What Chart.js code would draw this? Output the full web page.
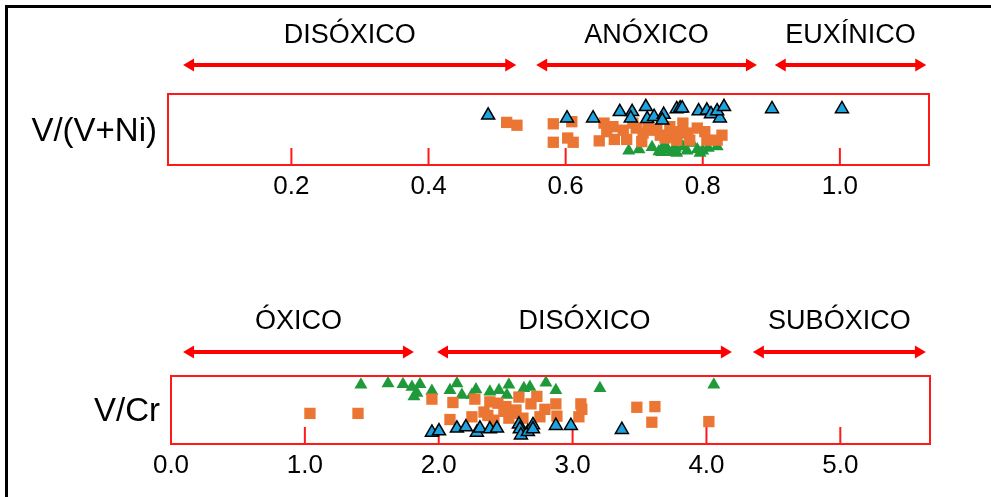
<!DOCTYPE html>
<html>
<head>
<meta charset="utf-8">
<script src="https://cdn.jsdelivr.net/npm/chart.js@4.4.1/dist/chart.umd.min.js"></script>
<style>
  html, body { margin: 0; padding: 0; background: #fff; }
  body { width: 991px; height: 497px; position: relative; overflow: hidden; }
  #frame { position: absolute; left: 5px; top: 5px; width: 990px; height: 500px;
           border-left: 3px solid #000; border-top: 3px solid #000; }
  .strip { position: absolute; left: 0; width: 991px; }
  #top { top: 0; height: 215px; }
  #bottom { top: 280px; height: 214px; }
</style>
</head>
<body>
<div id="frame"></div>
<div class="strip" id="top"><canvas id="vni"></canvas></div>
<div class="strip" id="bottom"><canvas id="vcr"></canvas></div>
<script>
// ---- V/(V+Ni) ----
const vniTicks = [0.2, 0.4, 0.6, 0.8, 1.0];
const vniZones = ['DISÓXICO', 'ANÓXICO', 'EUXÍNICO'];
const vniZoneFrom = [0.042, 0.557, 0.905];
const vniZoneTo = [0.528, 0.879, 1.126];

const vniBlue = [0.487, 0.602, 0.640, 0.679, 0.697, 0.695, 0.717, 0.719, 0.729, 0.743, 0.741,
  0.762, 0.767, 0.770, 0.794, 0.806, 0.812, 0.825, 0.821, 0.831, 0.901, 1.003];
const vniBlueLevel = [0.70, 0.66, 0.66, 0.75, 0.75, 0.66, 0.82, 0.65, 0.68, 0.71, 0.63,
  0.79, 0.80, 0.80, 0.76, 0.77, 0.72, 0.66, 0.76, 0.82, 0.79, 0.79];

const vniOrange = [0.514, 0.529, 0.582, 0.582, 0.609, 0.603, 0.611, 0.649, 0.656, 0.660, 0.669,
  0.671, 0.684, 0.689, 0.698, 0.713, 0.711, 0.726, 0.738, 0.745, 0.752, 0.762, 0.762, 0.771,
  0.778, 0.781, 0.803, 0.806, 0.828, 0.821, 0.720, 0.703, 0.755, 0.792, 0.733];
const vniOrangeLevel = [0.60, 0.56, 0.58, 0.32, 0.61, 0.38, 0.32, 0.34, 0.59, 0.47, 0.54,
  0.36, 0.49, 0.36, 0.59, 0.45, 0.33, 0.49, 0.42, 0.38, 0.54, 0.47, 0.35, 0.59,
  0.45, 0.35, 0.47, 0.35, 0.42, 0.35, 0.56, 0.52, 0.40, 0.52, 0.50];

const vniGreen = [0.692, 0.707, 0.726, 0.736, 0.743, 0.749, 0.760, 0.762, 0.771, 0.777, 0.784,
  0.792, 0.800, 0.808, 0.821, 0.796, 0.755, 0.740];
const vniGreenLevel = [0.20, 0.22, 0.25, 0.19, 0.27, 0.22, 0.24, 0.17, 0.26, 0.20, 0.31,
  0.22, 0.20, 0.24, 0.26, 0.17, 0.18, 0.18];

// ---- V/Cr ----
const vcrTicks = [0.0, 1.0, 2.0, 3.0, 4.0, 5.0];
const vcrZones = ['ÓXICO', 'DISÓXICO', 'SUBÓXICO'];
const vcrZoneFrom = [0.09, 1.987, 4.347];
const vcrZoneTo = [1.815, 4.19, 5.639];

const vcrGreen = [1.419, 1.621, 1.733, 1.800, 1.860, 1.837, 1.815, 1.949, 2.084, 2.136, 2.173,
  2.248, 2.382, 2.450, 2.524, 2.509, 2.681, 2.801, 2.875, 3.204, 4.055, 2.278, 2.636];
const vcrGreenLevel = [0.87, 0.89, 0.88, 0.84, 0.88, 0.75, 0.70, 0.78, 0.79, 0.89, 0.72,
  0.72, 0.77, 0.79, 0.87, 0.72, 0.84, 0.90, 0.79, 0.82, 0.87, 0.80, 0.82];

const vcrOrange = [1.038, 1.397, 1.949, 2.106, 2.084, 2.270, 2.248, 2.382, 2.338, 2.442, 2.412,
  2.487, 2.524, 2.599, 2.577, 2.629, 2.733, 2.689, 2.793, 2.756, 2.875, 2.883, 3.062, 3.047,
  3.069, 3.480, 3.615, 3.592, 4.018, 2.502, 2.562, 2.367];
const vcrOrangeLevel = [0.45, 0.45, 0.66, 0.61, 0.36, 0.66, 0.40, 0.62, 0.47, 0.60, 0.35,
  0.48, 0.38, 0.69, 0.50, 0.38, 0.70, 0.59, 0.51, 0.40, 0.59, 0.41, 0.59, 0.40,
  0.51, 0.54, 0.55, 0.32, 0.33, 0.55, 0.45, 0.42];

const vcrBlue = [1.949, 2.002, 2.136, 2.203, 2.285, 2.308, 2.382, 2.435, 2.599, 2.606, 2.614,
  2.666, 2.704, 2.704, 2.875, 2.987, 3.368];
const vcrBlueLevel = [0.17, 0.19, 0.23, 0.25, 0.17, 0.23, 0.22, 0.23, 0.29, 0.22, 0.13,
  0.18, 0.28, 0.22, 0.27, 0.27, 0.21];

function pts(xs, ys) {
  return xs.map((v, i) => ({ x: v, y: ys[i] }));
}

// red box, inner ticks, arrows, zone names and the row title
const stripDecor = {
  id: 'stripDecor',
  beforeDatasetsDraw(chart, args, opts) {
    const { ctx, chartArea: a, scales: { x } } = chart;
    ctx.save();
    ctx.strokeStyle = '#ff1a1a';
    ctx.lineWidth = 2;
    ctx.strokeRect(a.left, a.top, a.width, a.height);
    ctx.beginPath();
    x.ticks.forEach(t => {
      if (t.value <= x.min) return;
      const px = x.getPixelForValue(t.value);
      ctx.moveTo(px, a.bottom);
      ctx.lineTo(px, a.bottom - 17);
    });
    ctx.stroke();
    ctx.restore();
  },
  afterDraw(chart, args, opts) {
    const { ctx, chartArea: a, scales: { x } } = chart;
    ctx.save();
    const ay = a.top - opts.arrowGap;
    opts.from.forEach((f, i) => {
      const x1 = x.getPixelForValue(f);
      const x2 = x.getPixelForValue(opts.to[i]);
      ctx.strokeStyle = '#ff0000';
      ctx.fillStyle = '#ff0000';
      ctx.lineWidth = 4;
      ctx.beginPath();
      ctx.moveTo(x1 + 8, ay);
      ctx.lineTo(x2 - 8, ay);
      ctx.stroke();
      ctx.beginPath();
      ctx.moveTo(x1, ay); ctx.lineTo(x1 + 11, ay - 6.5); ctx.lineTo(x1 + 11, ay + 6.5);
      ctx.closePath(); ctx.fill();
      ctx.beginPath();
      ctx.moveTo(x2, ay); ctx.lineTo(x2 - 11, ay - 6.5); ctx.lineTo(x2 - 11, ay + 6.5);
      ctx.closePath(); ctx.fill();

      ctx.fillStyle = '#000';
      ctx.font = '27px "Liberation Sans", Arial, sans-serif';
      ctx.textAlign = 'center';
      ctx.textBaseline = 'middle';
      ctx.fillText(opts.names[i], (x1 + x2) / 2, a.top - opts.labelGap);
    });
    ctx.fillStyle = '#000';
    ctx.font = '33px "Liberation Sans", Arial, sans-serif';
    ctx.textAlign = 'right';
    ctx.textBaseline = 'middle';
    ctx.fillText(opts.title, a.left - 11, (a.top + a.bottom) / 2 + 2);
    ctx.restore();
  }
};

function stripChart(id, c) {
  return new Chart(document.getElementById(id), {
    type: 'scatter',
    data: {
      datasets: [
        { data: pts(c.blue, c.blueLevel), pointStyle: 'triangle', pointRadius: 7.5,
          backgroundColor: '#1fa3de', borderColor: '#000', borderWidth: 1.5 },
        { data: pts(c.orange, c.orangeLevel), pointStyle: 'rect', pointRadius: 8,
          backgroundColor: '#eb7633', borderWidth: 0 },
        { data: pts(c.green, c.greenLevel), pointStyle: 'triangle', pointRadius: 7.5,
          backgroundColor: '#1f9a3b', borderWidth: 0 }
      ]
    },
    options: {
      responsive: true,
      maintainAspectRatio: false,
      animation: false,
      events: [],
      layout: { padding: { top: c.padTop, left: c.padLeft, right: c.padRight, bottom: 0 } },
      plugins: {
        legend: { display: false },
        tooltip: { enabled: false },
        stripDecor: { from: c.from, to: c.to, names: c.names, title: c.title,
                      arrowGap: c.arrowGap, labelGap: c.labelGap }
      },
      scales: {
        x: {
          type: 'linear',
          min: c.min,
          max: c.max,
          afterBuildTicks: s => { s.ticks = c.ticks.map(v => ({ value: v })); },
          afterFit: s => { s.height = 50; },
          grid: { display: false, drawTicks: false },
          border: { display: false },
          ticks: {
            color: '#000',
            padding: 6,
            maxRotation: 0,
            autoSkip: false,
            font: { family: 'Liberation Sans', size: 26 },
            callback: v => v.toFixed(1)
          }
        },
        y: { display: false, min: 0, max: 1 }
      }
    },
    plugins: [stripDecor]
  });
}

stripChart('vni', {
  blue: vniBlue, blueLevel: vniBlueLevel,
  orange: vniOrange, orangeLevel: vniOrangeLevel,
  green: vniGreen, greenLevel: vniGreenLevel,
  ticks: vniTicks, min: 0.02, max: 1.13,
  from: vniZoneFrom, to: vniZoneTo, names: vniZones, title: 'V/(V+Ni)',
  padTop: 94, padLeft: 168, padRight: 62, arrowGap: 29, labelGap: 58
});

stripChart('vcr', {
  blue: vcrBlue, blueLevel: vcrBlueLevel,
  orange: vcrOrange, orangeLevel: vcrOrangeLevel,
  green: vcrGreen, greenLevel: vcrGreenLevel,
  ticks: vcrTicks, min: 0, max: 5.67,
  from: vcrZoneFrom, to: vcrZoneTo, names: vcrZones, title: 'V/Cr',
  padTop: 96, padLeft: 171, padRight: 61, arrowGap: 24, labelGap: 54
});
</script>
</body>
</html>
